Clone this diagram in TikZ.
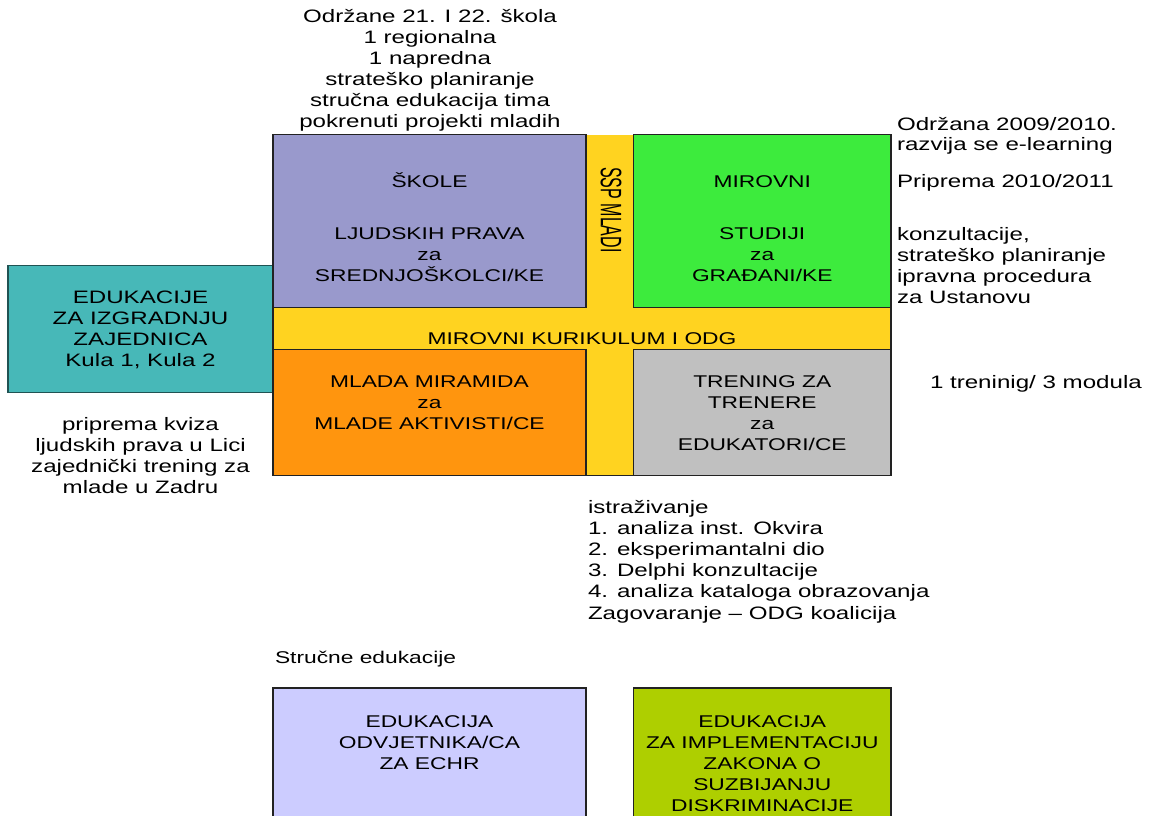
\documentclass[tikz,border=0pt]{standalone}
\usepackage{fontspec}
\setmainfont[FakeStretch=1.34]{Liberation Sans}
\newfontfamily\plainfont{Liberation Sans}
\definecolor{purp}{HTML}{9999CC}
\definecolor{grn}{HTML}{3DEB3D}
\definecolor{yel}{HTML}{FFD320}
\definecolor{org}{HTML}{FF950E}
\definecolor{gry}{HTML}{C0C0C0}
\definecolor{teal2}{HTML}{47B8B8}
\definecolor{lav}{HTML}{CCCCFF}
\definecolor{ygr}{HTML}{AECF00}
\definecolor{edge}{HTML}{222222}
\tikzset{
  box/.style={draw=edge, line width=1.1pt, inner sep=0pt, outer sep=0pt},
  ann/.style={inner sep=0pt, outer sep=0pt, font=\fontsize{18}{21}\selectfont},
  btxt/.style={inner sep=0pt, outer sep=0pt, align=center, anchor=north, font=\fontsize{17}{21}\selectfont}
}
\begin{document}
\begin{tikzpicture}[x=1pt,y=-1pt]
\useasboundingbox (0,0) rectangle (1152,815);
% teal box
\node[box, draw=teal2!45!black, fill=teal2, minimum width=265pt, minimum height=127pt] (teal) at (140.5,329) {};
% yellow cross background
\node[inner sep=0pt, outer sep=0pt, fill=yel, minimum width=618pt, minimum height=341pt] (cross) at (582,305) {};
\draw[edge, line width=1.1pt] (cross.north west) -- (cross.south west) -- (cross.south east) -- (cross.north east);
% four boxes
\node[box, fill=purp, minimum width=313pt, minimum height=173pt] (skole) at (429.5,221) {};
\node[box, fill=grn, minimum width=257.5pt, minimum height=173pt] (mir) at (762.25,221) {};
\node[box, fill=org, minimum width=313pt, minimum height=126pt] (mlada) at (429.5,412.5) {};
\node[box, fill=gry, minimum width=257.5pt, minimum height=126pt] (trening) at (762.25,412.5) {};
% bottom boxes
\node[box, fill=lav, minimum width=313pt, minimum height=129pt] (odv) at (429.5,752.5) {};
\node[box, fill=ygr, minimum width=257.5pt, minimum height=129pt] (impl) at (762.25,752.5) {};
% box texts
\node[btxt] (tskole) at (429.5,172.3) {\strut ŠKOLE\\[31pt]LJUDSKIH PRAVA\\za\\SREDNJOŠKOLCI/KE};
\node[btxt] (tmir) at (762.25,172.3) {\strut MIROVNI\\[31pt]STUDIJI\\za\\GRAĐANI/KE};
\node[btxt] (tmlada) at (429.5,373) {\strut MLADA MIRAMIDA\\za\\MLADE AKTIVISTI/CE};
\node[btxt] (ttren) at (762.25,373) {\strut TRENING ZA\\TRENERE\\za\\EDUKATORI/CE};
\node[btxt, anchor=base] (tkur) at (582,344) {MIROVNI KURIKULUM I ODG};
\node[inner sep=0pt, font=\plainfont\fontsize{16}{20}\selectfont, rotate=-90, yscale=1.85, transform shape] (ssp) at (611,210) {SSP MLADI};
\node[btxt] (todv) at (429.5,713) {\strut EDUKACIJA\\ODVJETNIKA/CA\\ZA ECHR};
\node[btxt] (timpl) at (762.25,713) {\strut EDUKACIJA\\ZA IMPLEMENTACIJU\\ZAKONA O\\SUZBIJANJU\\DISKRIMINACIJE};
\node[ann, align=center, anchor=north, font=\fontsize{18}{21.3}\selectfont] (tteal) at (140.5,288.1) {\strut EDUKACIJE\\ZA IZGRADNJU\\ZAJEDNICA\\Kula 1, Kula 2};
% annotations
\node[ann, align=center, anchor=north, font=\fontsize{18}{21.1}\selectfont] (top) at (430,7.7) {\strut Održane 21. I 22. škola\\1 regionalna\\1 napredna\\strateško planiranje\\stručna edukacija tima\\pokrenuti projekti mladih};
\node[ann, align=left, anchor=north west, font=\fontsize{18}{20.5}\selectfont] (ra) at (897,116) {\strut Održana 2009/2010.\\razvija se e-learning};
\node[ann, anchor=base west] (rb) at (897,187.5) {Priprema 2010/2011};
\node[ann, align=left, anchor=north west] (rc) at (897,225.3) {\strut konzultacije,\\strateško planiranje\\ipravna procedura\\za Ustanovu};
\node[ann, anchor=base west] (rd) at (930,388) {1 treninig/ 3 modula};
\node[ann, align=center, anchor=north] (left) at (140.5,415.3) {\strut priprema kviza\\ljudskih prava u Lici\\zajednički trening za\\mlade u Zadru};
\node[ann, align=left, anchor=north west, font=\fontsize{18}{21.2}\selectfont] (istr) at (588,498.2) {\strut istraživanje\\1. analiza inst. Okvira\\2. eksperimantalni dio\\3. Delphi konzultacije\\4. analiza kataloga obrazovanja\\Zagovaranje – ODG koalicija};
\node[ann, anchor=base west, font=\fontsize{17}{20}\selectfont] (struc) at (275,663) {Stručne edukacije};
\end{tikzpicture}
\end{document}
